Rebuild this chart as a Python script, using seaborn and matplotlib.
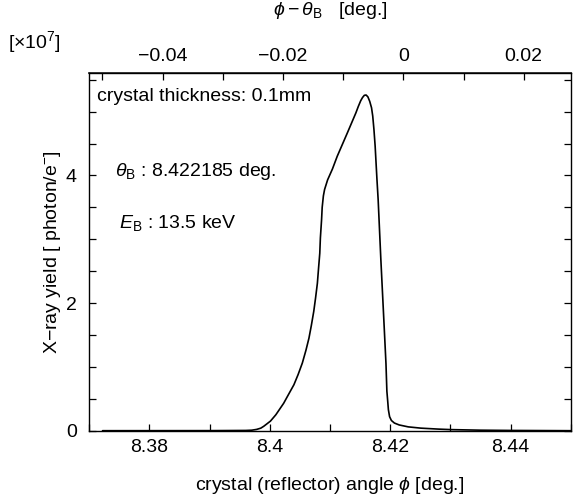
import numpy as np
import pandas as pd
import matplotlib
matplotlib.use('Agg')
import matplotlib.pyplot as plt
import seaborn as sns
from matplotlib.ticker import MultipleLocator

# Bragg angle of the crystal [deg.]
theta_b = 8.422185

# crystal angle phi [deg.] and X-ray yield [x1e7 photon/e-]
phi = [8.3722, 8.3900, 8.3960, 8.3970, 8.3978, 8.3985, 8.3990, 8.4001,
       8.4010, 8.4023, 8.4030, 8.4040, 8.4047, 8.4054, 8.4060, 8.4065,
       8.4069, 8.4073, 8.4076, 8.4079, 8.4081, 8.4083, 8.4084, 8.4086,
       8.4087, 8.4089, 8.4091, 8.4093, 8.4096, 8.4104, 8.4112, 8.4129,
       8.4143, 8.4147, 8.4151, 8.4154, 8.4157, 8.4160, 8.4163, 8.4166,
       8.4169, 8.4171, 8.4173, 8.4175, 8.4178, 8.4180, 8.41845, 8.4190,
       8.4193, 8.41945, 8.4196, 8.4197, 8.4199, 8.4202, 8.4207, 8.4215,
       8.4230, 8.4251, 8.4280, 8.4301, 8.4350, 8.4401, 8.4500]
xray_yield = [0.0, 0.001, 0.004, 0.008, 0.02, 0.04, 0.07, 0.15,
              0.25, 0.43, 0.55, 0.72, 0.88, 1.06, 1.26, 1.45,
              1.65, 1.87, 2.08, 2.31, 2.55, 2.78, 3.02, 3.31,
              3.50, 3.68, 3.78, 3.84, 3.93, 4.10, 4.30, 4.67,
              4.98, 5.08, 5.17, 5.22, 5.255, 5.26, 5.23, 5.16,
              5.06, 4.93, 4.72, 4.46, 3.94, 3.62, 2.68, 1.63,
              1.05, 0.62, 0.45, 0.33, 0.22, 0.16, 0.12, 0.09,
              0.06, 0.04, 0.025, 0.017, 0.008, 0.004, 0.0]

df = pd.DataFrame({'phi': phi, 'yield': xray_yield})

sns.set_theme(style='ticks')
plt.rcParams['font.family'] = ['Liberation Sans', 'DejaVu Sans']
plt.rcParams['mathtext.fontset'] = 'custom'
plt.rcParams['mathtext.rm'] = 'Liberation Sans'
plt.rcParams['mathtext.sf'] = 'Liberation Sans'
plt.rcParams['mathtext.it'] = 'Liberation Sans:italic'
plt.rcParams['mathtext.fallback'] = 'stix'
plt.rcParams['font.size'] = 14
plt.rcParams['text.color'] = 'black'
plt.rcParams['axes.labelcolor'] = 'black'
plt.rcParams['xtick.color'] = 'black'
plt.rcParams['ytick.color'] = 'black'

fig = plt.figure(figsize=(5.78, 5.0), dpi=100)
ax = fig.add_axes([0.1545, 0.1386, 0.8329, 0.7148])

sns.lineplot(data=df, x='phi', y='yield', ax=ax, color='black',
             linewidth=1.2, sort=False, estimator=None)

ax.set_xlim(8.37, 8.45)
ax.set_ylim(0, 5.6)
ax.xaxis.set_major_locator(MultipleLocator(0.02))
ax.xaxis.set_minor_locator(MultipleLocator(0.01))
ax.yaxis.set_major_locator(MultipleLocator(2))
ax.yaxis.set_minor_locator(MultipleLocator(0.5))
ax.set_xticks([8.38, 8.40, 8.42, 8.44])
ax.set_xticklabels(['8.38', '8.4', '8.42', '8.44'])

ax.tick_params(axis='both', which='both', direction='in', length=5,
               width=0.9, colors='black', labelsize=14)
ax.tick_params(axis='x', which='both', bottom=True, top=False, pad=6)
ax.tick_params(axis='y', which='both', left=True, right=True, pad=9)
for s in ax.spines.values():
    s.set_linewidth(1.0)
    s.set_color('black')

ax.set_xlabel(r'crystal (reflector) angle $\phi$ [deg.]', fontsize=14, labelpad=14)
ax.set_ylabel(r'X−ray yield [ photon/e$^{-}$]', fontsize=14, labelpad=2)

top = ax.secondary_xaxis('top', functions=(lambda x: x - theta_b,
                                           lambda x: x + theta_b))
top.xaxis.set_major_locator(MultipleLocator(0.02))
top.xaxis.set_minor_locator(MultipleLocator(0.01))
top.set_xticks([-0.04, -0.02, 0.0, 0.02])
top.set_xticklabels(['−0.04', '−0.02', '0', '0.02'])
top.tick_params(axis='x', which='both', direction='in', length=5,
                width=0.9, colors='black', labelsize=14, pad=6)
top.set_xlabel(r'$\phi - \theta_{\mathrm{B}}$   [deg.]', fontsize=14, labelpad=24)

ax.text(0.015, 0.936, 'crystal thickness: 0.1mm', transform=ax.transAxes,
        fontsize=14, va='center', ha='left')
ax.text(0.053, 0.725, r'$\theta_{\mathrm{B}}$ : 8.422185 deg.', transform=ax.transAxes,
        fontsize=14, va='center', ha='left')
ax.text(0.062, 0.581, r'$E_{\mathrm{B}}$ : 13.5 keV', transform=ax.transAxes,
        fontsize=14, va='center', ha='left')

fig.text(0.013, 0.915, r'[$\times$10$^{7}$]', fontsize=14, va='center', ha='left')

fig.savefig('out.png', dpi=100)
